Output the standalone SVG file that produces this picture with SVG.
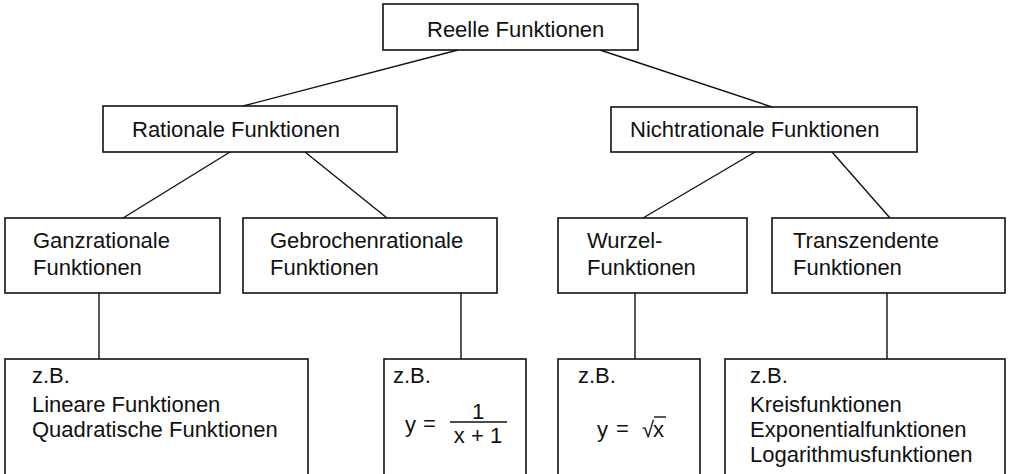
<svg xmlns="http://www.w3.org/2000/svg" width="1010" height="474" viewBox="0 0 1010 474">
<style>
.box{fill:#fff;stroke:#111;stroke-width:1.6}
.t{font-family:"Liberation Sans",Arial,sans-serif;font-size:22px;fill:#111}
.c line{stroke:#111;stroke-width:1.4}
</style>
<rect width="1010" height="474" fill="#fff"/>
<g class="c" id="connectors">
<line x1="458" y1="50" x2="243" y2="106"/>
<line x1="600" y1="50" x2="772" y2="107"/>
<line x1="230" y1="152" x2="123" y2="218"/>
<line x1="305" y1="152" x2="387" y2="218"/>
<line x1="755" y1="152" x2="643" y2="218"/>
<line x1="832" y1="152" x2="890" y2="218"/>
<line x1="99" y1="293" x2="99" y2="359"/>
<line x1="461" y1="293" x2="461" y2="359"/>
<line x1="635" y1="293" x2="635" y2="359"/>
<line x1="887" y1="293" x2="887" y2="359"/>
</g>
<g id="reelle">
<rect class="box" x="383" y="4" width="255" height="46"/>
<text class="t" x="427" y="37">Reelle Funktionen</text>
</g>
<g id="rationale">
<rect class="box" x="103" y="106" width="294" height="46"/>
<text class="t" x="132" y="137">Rationale Funktionen</text>
</g>
<g id="nichtrationale">
<rect class="box" x="611" y="107" width="306" height="45"/>
<text class="t" x="630" y="137">Nichtrationale Funktionen</text>
</g>
<g id="ganzrationale">
<rect class="box" x="5" y="218" width="215" height="75"/>
<text class="t" x="33" y="248">Ganzrationale</text>
<text class="t" x="33" y="275">Funktionen</text>
</g>
<g id="gebrochenrationale">
<rect class="box" x="243" y="218" width="254" height="75"/>
<text class="t" x="270" y="248">Gebrochenrationale</text>
<text class="t" x="270" y="275">Funktionen</text>
</g>
<g id="wurzel">
<rect class="box" x="558" y="218" width="189" height="75"/>
<text class="t" x="587" y="248">Wurzel-</text>
<text class="t" x="587" y="275">Funktionen</text>
</g>
<g id="transzendente">
<rect class="box" x="772" y="218" width="233" height="75"/>
<text class="t" x="793" y="248">Transzendente</text>
<text class="t" x="793" y="275">Funktionen</text>
</g>
<g id="bsp-ganz">
<rect class="box" x="5" y="359" width="303" height="130"/>
<text class="t" x="32" y="383">z.B.</text>
<text class="t" x="32" y="412">Lineare Funktionen</text>
<text class="t" x="32" y="437">Quadratische Funktionen</text>
</g>
<g id="bsp-gebrochen">
<rect class="box" x="384" y="359" width="142" height="130"/>
<text class="t" x="393" y="383">z.B.</text>
<text class="t" x="405" y="432">y</text>
<text class="t" x="423" y="431">=</text>
<text class="t" x="478" y="419" text-anchor="middle">1</text>
<line x1="450" y1="422" x2="507" y2="422" stroke="#111" stroke-width="1.5"/>
<text class="t" x="478" y="443" text-anchor="middle">x + 1</text>
</g>
<g id="bsp-wurzel">
<rect class="box" x="558" y="359" width="142" height="130"/>
<text class="t" x="578" y="383">z.B.</text>
<text class="t" x="597" y="437">y</text>
<text class="t" x="616" y="436">=</text>
<text class="t" x="642" y="437">√</text>
<line x1="654" y1="417" x2="666" y2="417" stroke="#111" stroke-width="1.4"/>
<text class="t" x="653" y="437">x</text>
</g>
<g id="bsp-transzendent">
<rect class="box" x="725" y="359" width="280" height="130"/>
<text class="t" x="750" y="383">z.B.</text>
<text class="t" x="750" y="412">Kreisfunktionen</text>
<text class="t" x="750" y="437">Exponentialfunktionen</text>
<text class="t" x="750" y="462">Logarithmusfunktionen</text>
</g>
</svg>
